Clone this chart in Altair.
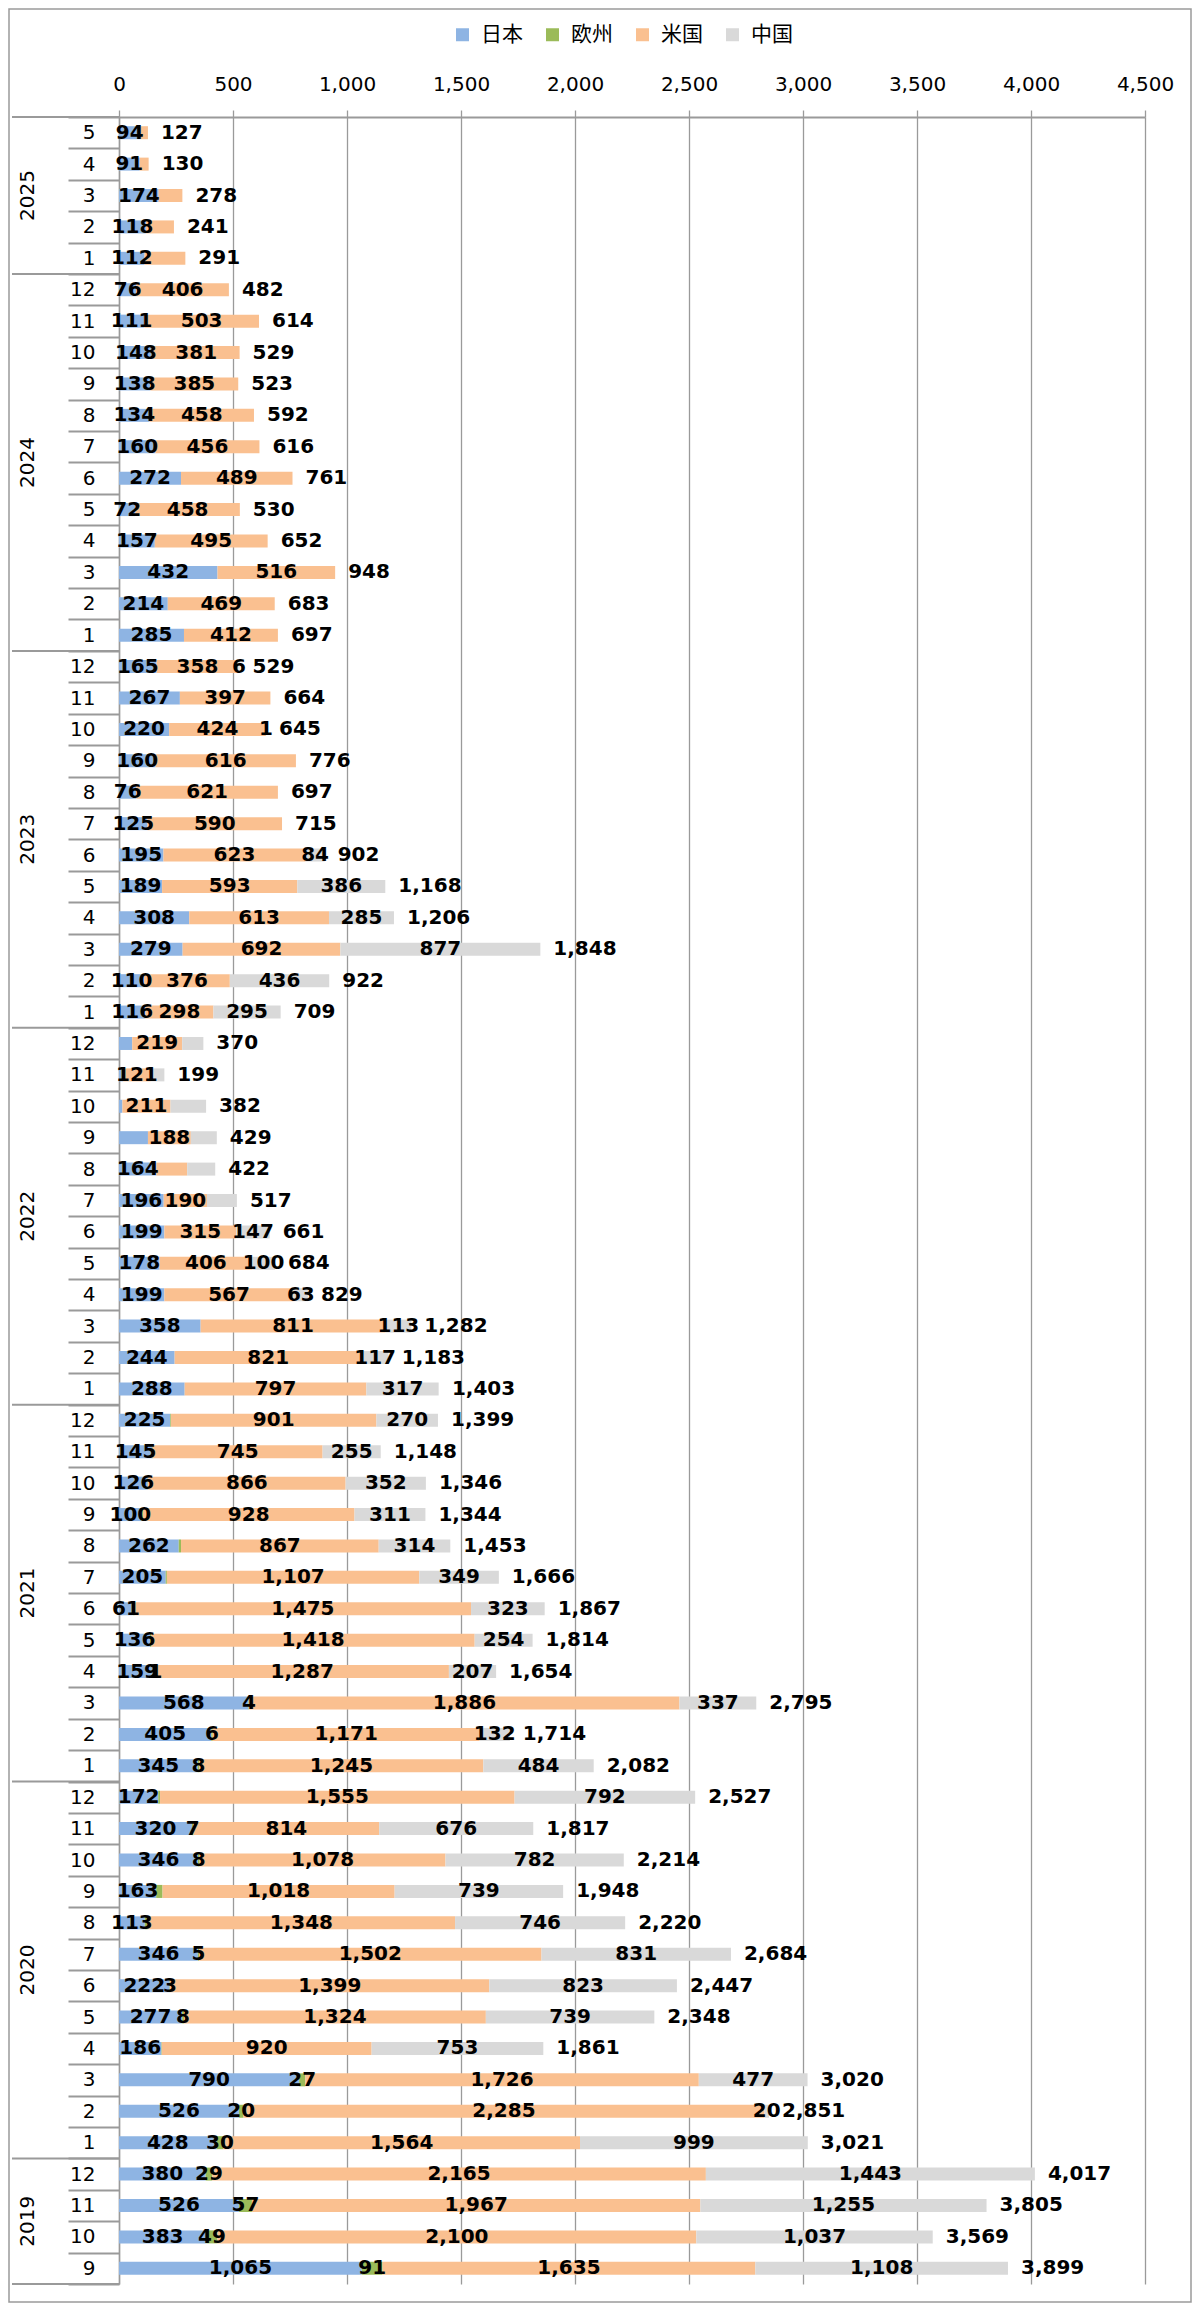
import altair as alt
import pandas as pd

# ---------------- data (top row = 2025-5, bottom row = 2019-9) ----------------
YEARS = ["2025", "2024", "2023", "2022", "2021", "2020", "2019"]
MONTHS = {
    "2025": [5, 4, 3, 2, 1],
    "2024": [12, 11, 10, 9, 8, 7, 6, 5, 4, 3, 2, 1],
    "2023": [12, 11, 10, 9, 8, 7, 6, 5, 4, 3, 2, 1],
    "2022": [12, 11, 10, 9, 8, 7, 6, 5, 4, 3, 2, 1],
    "2021": [12, 11, 10, 9, 8, 7, 6, 5, 4, 3, 2, 1],
    "2020": [12, 11, 10, 9, 8, 7, 6, 5, 4, 3, 2, 1],
    "2019": [12, 11, 10, 9],
}
JAPAN = {
    "2025": [94, 91, 174, 118, 112],
    "2024": [76, 111, 148, 138, 134, 160, 272, 72, 157, 432, 214, 285],
    "2023": [165, 267, 220, 160, 76, 125, 195, 189, 308, 279, 110, 116],
    "2022": [58, 18, 15, 127, 164, 196, 199, 178, 199, 358, 244, 288],
    "2021": [225, 145, 126, 100, 262, 205, 61, 136, 159, 568, 405, 345],
    "2020": [172, 320, 346, 163, 113, 346, 222, 277, 186, 790, 526, 428],
    "2019": [380, 526, 383, 1065],
}
EUROPE = {
    "2025": [0, 0, 0, 0, 0],
    "2024": [0] * 12,
    "2023": [0] * 12,
    "2022": [0] * 12,
    "2021": [3, 3, 2, 5, 10, 5, 8, 6, 1, 4, 6, 8],
    "2020": [8, 7, 8, 28, 13, 5, 3, 8, 2, 27, 20, 30],
    "2019": [29, 57, 49, 91],
}
USA = {
    "2025": [33, 39, 104, 123, 179],
    "2024": [406, 503, 381, 385, 458, 456, 489, 458, 495, 516, 469, 412],
    "2023": [358, 397, 424, 616, 621, 590, 623, 593, 613, 692, 376, 298],
    "2022": [219, 121, 211, 188, 135, 190, 315, 406, 567, 811, 821, 797],
    "2021": [901, 745, 866, 928, 867, 1107, 1475, 1418, 1287, 1886, 1171, 1245],
    "2020": [1555, 814, 1078, 1018, 1348, 1502, 1399, 1324, 920, 1726, 2285, 1564],
    "2019": [2165, 1967, 2100, 1635],
}
CHINA = {
    "2025": [0, 0, 0, 0, 0],
    "2024": [0] * 12,
    "2023": [6, 0, 1, 0, 0, 0, 84, 386, 285, 877, 436, 295],
    "2022": [93, 60, 156, 114, 123, 131, 147, 100, 63, 113, 117, 317],
    "2021": [270, 255, 352, 311, 314, 349, 323, 254, 207, 337, 132, 484],
    "2020": [792, 676, 782, 739, 746, 831, 823, 739, 753, 477, 20, 999],
    "2019": [1443, 1255, 1037, 1108],
}
TOTAL = {
    "2025": [127, 130, 278, 241, 291],
    "2024": [482, 614, 529, 523, 592, 616, 761, 530, 652, 948, 683, 697],
    "2023": [529, 664, 645, 776, 697, 715, 902, 1168, 1206, 1848, 922, 709],
    "2022": [370, 199, 382, 429, 422, 517, 661, 684, 829, 1282, 1183, 1403],
    "2021": [1399, 1148, 1346, 1344, 1453, 1666, 1867, 1814, 1654, 2795, 1714, 2082],
    "2020": [2527, 1817, 2214, 1948, 2220, 2684, 2447, 2348, 1861, 3020, 2851, 3021],
    "2019": [4017, 3805, 3569, 3899],
}
# segments whose value label is not shown in the original
HIDDEN = {
    "日本": ["2022-12", "2022-11", "2022-10", "2022-9"],
    "欧州": ["2021-12", "2021-11", "2021-10", "2021-9", "2021-8", "2021-7",
             "2021-6", "2021-5", "2020-12", "2020-9", "2020-8", "2020-4"],
    "米国": ["2025-5", "2025-4", "2025-3", "2025-2", "2025-1", "2022-8"],
    "中国": ["2022-12", "2022-11", "2022-10", "2022-9", "2022-8", "2022-7"],
}
SERIES = ["日本", "欧州", "米国", "中国"]
COLORS = ["#8EB4E3", "#9BBB59", "#FAC090", "#D9D9D9"]
TICKS = [0, 500, 1000, 1500, 2000, 2500, 3000, 3500, 4000, 4500]

# ---------------- tables ----------------
series_data = dict(zip(SERIES, [JAPAN, EUROPE, USA, CHINA]))
keys = []
rows_by_key = {}
for y in YEARS:
    for i, m in enumerate(MONTHS[y]):
        k = f"{y}-{m}"
        keys.append(k)
        rows_by_key[k] = (y, i)

seg_rows = []
for k in keys:
    y, i = rows_by_key[k]
    start = 0
    for s in SERIES:
        v = series_data[s][y][i]
        seg_rows.append({
            "key": k, "series": s, "value": v, "start": start, "end": start + v,
            "mid": start + v / 2, "show": (v > 0) and (k not in HIDDEN[s]),
        })
        start += v
seg = pd.DataFrame(seg_rows)
lab = seg[seg["show"]].copy()
lab["sorder"] = lab["series"].map({s: j for j, s in enumerate(SERIES)})
lab = lab.sort_values(["sorder"], kind="stable")

tot = pd.DataFrame({"key": keys,
                    "total": [TOTAL[rows_by_key[k][0]][rows_by_key[k][1]] for k in keys]})

year_first = pd.DataFrame({"key": [f"{y}-{MONTHS[y][0]}" for y in YEARS]})
year_last = pd.DataFrame({"key": [keys[-1]]})
year_even = pd.DataFrame([{"year": y, "key": f"{y}-{MONTHS[y][len(MONTHS[y]) // 2]}"}
                          for y in YEARS if len(MONTHS[y]) % 2 == 0])
year_odd = pd.DataFrame([{"year": y, "key": f"{y}-{MONTHS[y][len(MONTHS[y]) // 2]}"}
                         for y in YEARS if len(MONTHS[y]) % 2 == 1])

# ---------------- layout ----------------
W = 1026
H = 2167
NUMFONT = "DejaVu Sans"
GRID = "#9a9a9a"

yscale = alt.Scale(domain=keys, paddingInner=0, paddingOuter=0)
yaxis = alt.Axis(
    title=None, labelExpr="split(datum.label, '-')[1]", labelAlign="right",
    labelBaseline="middle", labelFont=NUMFONT, labelFontSize=20, labelColor="#000000",
    labelPadding=-27, ticks=True, tickBand="extent", tickSize=51, tickColor=GRID,
    tickWidth=2, domain=True, domainColor=GRID, domainWidth=1.5, grid=False,
)
xscale = alt.Scale(domain=[0, 4500], nice=False, zero=True)
xaxis = alt.Axis(orient="top", values=TICKS, format=",.0f", grid=True,
                 gridColor=GRID, gridWidth=1.3, tickColor=GRID, tickSize=7,
                 tickWidth=1.3, domainColor=GRID, domainWidth=2,
                 labelFont=NUMFONT, labelFontSize=20, labelColor="#000000",
                 labelFlush=False, labelOverlap=False,
                 labelPadding=16, title=None)


def Y(bp=None):
    if bp is None:
        return alt.Y("key:N", sort=keys, scale=yscale, axis=yaxis)
    return alt.Y("key:N", sort=keys, scale=yscale, axis=yaxis, bandPosition=bp)


def X(field):
    return alt.X(field, scale=xscale, axis=xaxis, title=None)


bars = alt.Chart(seg).mark_bar(size=13).encode(
    x=X("start:Q"),
    x2="end:Q",
    y=Y(),
    color=alt.Color("series:N",
                    scale=alt.Scale(domain=SERIES, range=COLORS),
                    legend=alt.Legend(orient="none", direction="horizontal",
                                      legendX=333, legendY=-93, title=None,
                                      symbolType="square", symbolSize=169,
                                      symbolStrokeWidth=0, labelFontSize=21,
                                      labelFont="Noto Sans CJK JP", labelColor="#000000",
                                      labelOffset=8, columnPadding=19, padding=0)),
)

labels = alt.Chart(lab).mark_text(
    font=NUMFONT, fontSize=20, fontWeight="bold", color="#000000",
    align="center", baseline="middle",
).encode(
    x=X("mid:Q"),
    y=Y(),
    text=alt.Text("value:Q", format=","),
)

totals = alt.Chart(tot).mark_text(
    font=NUMFONT, fontSize=20, fontWeight="bold", color="#000000",
    align="left", baseline="middle", dx=13,
).encode(
    x=X("total:Q"),
    y=Y(),
    text=alt.Text("total:Q", format=","),
)

year_lines = alt.Chart(year_first).mark_rule(color=GRID, strokeWidth=2).encode(
    x=alt.value(-107), x2=alt.value(0), y=Y(0),
)
bottom_line = alt.Chart(year_last).mark_rule(color=GRID, strokeWidth=2).encode(
    x=alt.value(-107), x2=alt.value(0), y=Y(1),
)
year_text_even = alt.Chart(year_even).mark_text(
    font=NUMFONT, fontSize=20, color="#000000", angle=270,
    align="center", baseline="middle",
).encode(x=alt.value(-91), y=Y(0), text="year:N")
year_text_odd = alt.Chart(year_odd).mark_text(
    font=NUMFONT, fontSize=20, color="#000000", angle=270,
    align="center", baseline="middle",
).encode(x=alt.value(-91), y=Y(0.5), text="year:N")

border = alt.Chart(pd.DataFrame({"b": [0]})).mark_rect(
    fill="transparent", stroke=GRID, strokeWidth=1.5,
).encode(x=alt.value(-110), x2=alt.value(W + 46), y=alt.value(-108), y2=alt.value(H + 18))

chart = alt.layer(
    border, bars, year_lines, bottom_line, year_text_even, year_text_odd, labels, totals,
).properties(
    width=W, height=H,
    background="#ffffff",
    autosize=alt.AutoSizeParams(type="none"),
    padding={"left": 111, "top": 109, "right": 47, "bottom": 19},
).configure_view(stroke="transparent")

chart.save("out.html", embed_options={"renderer": "svg", "actions": False})
